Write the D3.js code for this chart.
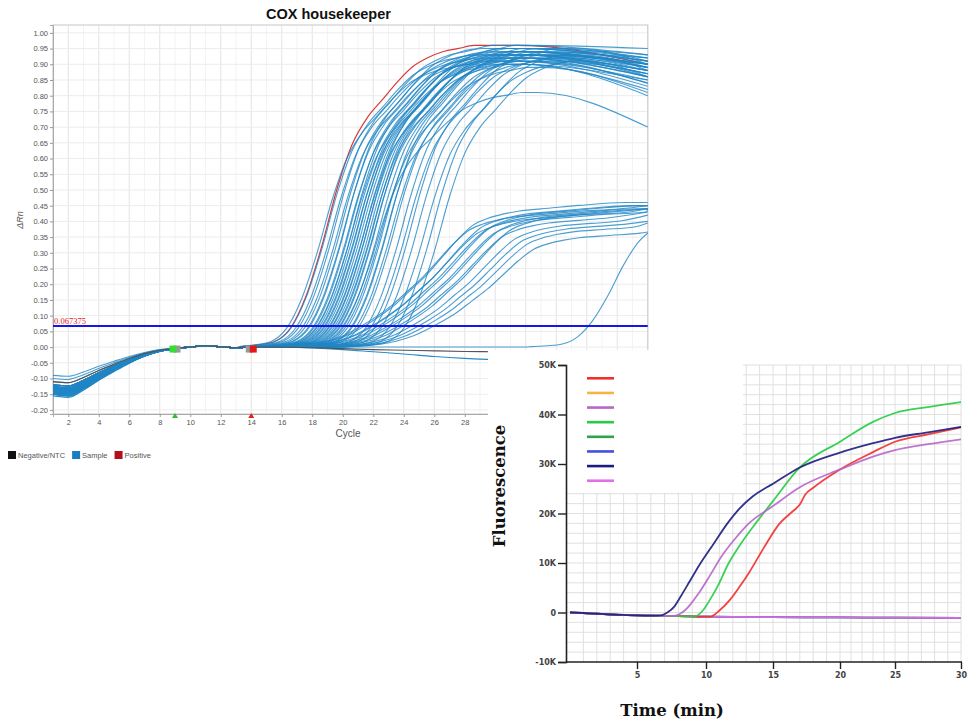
<!DOCTYPE html>
<html>
<head>
<meta charset="utf-8">
<script src="https://cdn.jsdelivr.net/npm/d3@7"></script>
<style>
  body { margin: 0; background: #fff; }
  svg { display: block; }
</style>
</head>
<body>
<script>
// ===== amplification plot: ΔRn vs cycle =====
const cycles = d3.range(1, 41);
const yTicks = [-0.20, -0.15, -0.10, -0.05, 0.00, 0.05, 0.10, 0.15, 0.20, 0.25, 0.30, 0.35, 0.40,
  0.45, 0.50, 0.55, 0.60, 0.65, 0.70, 0.75, 0.80, 0.85, 0.90, 0.95, 1.00];
const xTicks = [2, 4, 6, 8, 10, 12, 14, 16, 18, 20, 22, 24, 26, 28, 30, 32, 34, 36, 38, 40];
const threshold = 0.067375;

// baseline drift, cycles 1..15 (fraction of each well's starting offset) + shared wiggle
const baseShape = [1.0, 1.03, 0.88, 0.68, 0.5, 0.33, 0.19, 0.09, 0.02, 0, 0, 0, 0, 0, 0];
const baseWiggle = [0, 0, 0, 0, 0, 0, 0, 0, -0.002, 0, 0.004, 0.001, -0.002, 0, 0];

// rise shapes (cycles from the half-height point, fraction of plateau)
const mainShapeD = [-6, -5, -4, -3, -2, -1, 0, 1, 2, 3, 4, 5, 6, 7, 8, 9];
const mainShapeF = [0.003, 0.008, 0.02, 0.065, 0.17, 0.33, 0.52, 0.67, 0.76, 0.82, 0.88, 0.93, 0.96, 0.98, 0.99, 1.0];
const lowShapeD = [-9, -8, -7, -6, -5, -4, -3, -2, -1, 0, 1, 2, 3, 4, 5, 6, 8, 10, 13];
const lowShapeF = [0.005, 0.012, 0.025, 0.05, 0.09, 0.15, 0.22, 0.30, 0.40, 0.50, 0.62, 0.74, 0.84, 0.89, 0.92, 0.94, 0.96, 0.98, 1.0];

// samples, high plateau group
const mainMid = [19.3, 19.6, 19.9, 20.1, 20.3, 20.5, 20.7, 20.8, 21.0, 21.1, 21.2, 21.3, 21.4, 21.5,
  21.6, 21.7, 21.8, 21.9, 22.0, 22.1, 22.2, 22.3, 22.4, 22.5, 22.6, 22.7, 22.8, 23.0, 23.1, 23.3,
  23.5, 23.6, 23.8, 24.0, 24.5, 24.8, 25.1, 25.5, 26.0, 26.5, 27.0];
const mainPeak = [0.90, 0.93, 0.92, 0.95, 0.91, 0.94, 0.93, 0.96, 0.92, 0.94, 0.90, 0.95, 0.93, 0.91,
  0.94, 0.92, 0.95, 0.93, 0.90, 0.94, 0.92, 0.96, 0.93, 0.91, 0.94, 0.92, 0.95, 0.93, 0.89, 0.94,
  0.92, 0.95, 0.91, 0.93, 0.94, 0.92, 0.95, 0.93, 0.91, 0.94, 0.92];
const mainEnd = [0.85, 0.88, 0.86, 0.91, 0.83, 0.90, 0.87, 0.93, 0.84, 0.89, 0.82, 0.92, 0.88, 0.85,
  0.90, 0.86, 0.91, 0.89, 0.80, 0.92, 0.87, 0.95, 0.90, 0.84, 0.89, 0.88, 0.93, 0.90, 0.81, 0.91,
  0.86, 0.92, 0.87, 0.89, 0.90, 0.88, 0.91, 0.89, 0.86, 0.90, 0.88];
const mainStart = [-0.13, -0.145, -0.12, -0.15, -0.135, -0.14, -0.125, -0.155, -0.13, -0.11, -0.145,
  -0.14, -0.12, -0.15, -0.135, -0.13, -0.14, -0.125, -0.09, -0.15, -0.145, -0.13, -0.14, -0.12,
  -0.155, -0.135, -0.14, -0.13, -0.10, -0.145, -0.15, -0.125, -0.14, -0.135, -0.13, -0.145, -0.12,
  -0.15, -0.14, -0.13, -0.135];

// samples, low plateau group
const lowMid = [25.2, 25.5, 25.8, 26.0, 26.3, 26.6, 26.9, 27.2, 27.5, 27.9, 28.3, 28.7, 29.1, 29.5];
const lowPeak = [0.44, 0.46, 0.43, 0.45, 0.44, 0.45, 0.43, 0.44, 0.42, 0.44, 0.41, 0.40, 0.39, 0.37];
const lowEnd = [0.45, 0.46, 0.44, 0.45, 0.44, 0.45, 0.44, 0.44, 0.43, 0.44, 0.42, 0.40, 0.395, 0.366];
const lowStart = [-0.14, -0.13, -0.15, -0.12, -0.145, -0.135, -0.14, -0.13, -0.15, -0.125, -0.14,
  -0.135, -0.145, -0.13];

// odd ones: sagging sample, late sample, positive control
const sagSample = { mid: 22.8, peak: 0.81, end: 0.70, start: -0.12 };
const lateSample = { mid: 38.4, peak: 0.50, end: 0.363, start: -0.14 };
const positive = { mid: 19.6, peak: 0.96, end: 0.90, start: -0.12 };

// flat wells (after cycle 15)
const negCycles = [15, 18, 20, 22, 24, 26, 28, 30, 34, 40];
const negBlackV = [0, -0.002, -0.005, -0.008, -0.010, -0.012, -0.014, -0.015, -0.017, -0.020];
const negBlueV = [0, -0.003, -0.008, -0.015, -0.022, -0.030, -0.036, -0.040, -0.047, -0.055];

// ===== inset: fluorescence vs time =====
const flatT = [0, 1, 2, 3, 4, 5, 6, 7, 8, 9, 10, 12, 15, 20, 25, 30];
const flatV = [0, -100, -250, -400, -500, -600, -650, -700, -750, -800, -850, -900, -950, -1000, -1050, -1100];
const navyT = [0, 1, 2, 3, 4, 5, 6, 6.7, 7.2, 7.7, 8.2, 8.8, 9.5, 10.6, 11.6, 12.5, 13.5, 15, 17, 20, 23, 25, 27.5, 30];
const navyV = [0, -100, -250, -400, -500, -600, -650, -600, 0, 1200, 3400, 6200, 9500, 14000, 18000,
  21000, 23500, 26000, 29300, 32300, 34200, 35300, 36400, 37500];
const orchidT = [0, 2, 4, 6, 7.7, 8.5, 9.5, 10.3, 11.2, 12.2, 13.2, 15, 17, 20, 23, 25, 27.5, 30];
const orchidV = [0, -250, -500, -650, -700, 500, 4000, 7500, 11500, 15000, 18000, 21500, 25300, 28900,
  31500, 32800, 34000, 35000];
const greenT = [0, 2, 4, 6, 8, 9.2, 9.8, 10.3, 11.0, 11.6, 12.5, 13.7, 15, 17, 20, 23, 25, 27.5, 30];
const greenV = [0, -250, -500, -650, -750, -800, 500, 2600, 6000, 9500, 13500, 18000, 22500, 29300,
  34500, 38500, 40300, 41500, 42500];
const redT = [0, 2, 4, 6, 8, 10.3, 11.0, 11.8, 12.5, 13.2, 14.3, 15.5, 16.5, 17.0, 17.4, 18, 20, 23, 25, 27.5, 30];
const redV = [0, -250, -500, -650, -750, -850, 400, 2600, 5200, 8000, 13000, 18000, 20500, 21800,
  23800, 25200, 28900, 32400, 34500, 36000, 37400];
const legendColors = ["#f0302c", "#f5b447", "#b866c8", "#26cc46", "#30a24e", "#4050e0", "#1c1c80", "#e46ee8"];
const insetXTicks = [5, 10, 15, 20, 25, 30];
const insetYTicks = [-10000, 0, 10000, 20000, 30000, 40000, 50000];

const W = 969, H = 720;
const svg = d3.select("body").append("svg").attr("width", W).attr("height", H);

const x = d3.scaleLinear().domain([1, 40]).range([53, 647.75]);
const y = d3.scaleLinear().domain([-0.213, 1.025]).range([414, 25]);

const qpcr = svg.append("g");

// grid
qpcr.append("g").selectAll("line").data(cycles).join("line")
  .attr("x1", d => x(d)).attr("x2", d => x(d)).attr("y1", 25).attr("y2", 414)
  .attr("stroke", d => d % 2 === 0 ? "#e3e3e3" : "#f3f3f3").attr("stroke-width", 1);
qpcr.append("g").selectAll("line").data(yTicks).join("line")
  .attr("x1", 53).attr("x2", 647.75).attr("y1", d => y(d)).attr("y2", d => y(d))
  .attr("stroke", "#ececec").attr("stroke-width", 1);
qpcr.append("rect").attr("x", 53).attr("y", 25).attr("width", 594.75).attr("height", 389)
  .attr("fill", "none").attr("stroke", "#d0d0d0").attr("stroke-width", 1.2);

// axes
const yAxis = qpcr.append("g").attr("transform", "translate(53,0)")
  .call(d3.axisLeft(y).tickValues(yTicks).tickSize(3).tickFormat(d => (Math.round(d * 100) / 100).toFixed(2)));
const xAxis = qpcr.append("g").attr("transform", "translate(0,414)")
  .call(d3.axisBottom(x).tickValues(xTicks).tickSize(3).tickFormat(d => d));
[yAxis, xAxis].forEach(a => {
  a.select(".domain").attr("stroke", "#aaa");
  a.selectAll(".tick line").attr("stroke", "#999");
  a.selectAll("text").attr("fill", "#555").style("font", "7.5px 'Liberation Sans', Arial, sans-serif");
});
yAxis.selectAll("text").attr("x", -5);

qpcr.append("text").attr("x", 328.5).attr("y", 19).attr("text-anchor", "middle")
  .style("font", "bold 14.5px 'Liberation Sans', Arial, sans-serif").attr("fill", "#111")
  .text("COX housekeeper");
qpcr.append("text").attr("x", 348).attr("y", 437).attr("text-anchor", "middle")
  .style("font", "10px 'Liberation Sans', Arial, sans-serif").attr("fill", "#555").text("Cycle");
qpcr.append("text").attr("transform", "translate(23,220) rotate(-90)").attr("text-anchor", "middle")
  .style("font", "italic 9px 'Liberation Sans', Arial, sans-serif").attr("fill", "#555").text("ΔRn");

function buildCurve(s, shapeD, shapeF, hold) {
  const pts = [];
  cycles.forEach((c, i) => {
    if (c < s.mid + shapeD[0]) pts.push([c, s.start * (baseShape[i] || 0) + (baseWiggle[i] || 0)]);
  });
  shapeD.forEach((d, i) => { if (s.mid + d <= 40) pts.push([s.mid + d, s.peak * shapeF[i]]); });
  const last = pts[pts.length - 1][0];
  if (hold && last < hold && hold < 40) pts.push([hold, s.peak]);
  if (pts[pts.length - 1][0] < 40) pts.push([40, s.end]);
  return pts;
}
function flatCurve(start, vals) {
  const pts = cycles.filter(c => c < negCycles[0]).map((c, i) => [c, start * baseShape[i] + baseWiggle[i]]);
  return pts.concat(negCycles.map((c, i) => [c, vals[i]]));
}

const line = d3.line().x(d => x(d[0])).y(d => y(d[1])).curve(d3.curveMonotoneX);

const samples = [];
mainMid.forEach((m, i) => samples.push({ mid: m, peak: mainPeak[i], end: mainEnd[i], start: mainStart[i], group: "main" }));
lowMid.forEach((m, i) => samples.push({ mid: m, peak: lowPeak[i], end: lowEnd[i], start: lowStart[i], group: "low" }));
samples.push(Object.assign({ group: "main" }, sagSample));
samples.push(Object.assign({ group: "main" }, lateSample));
const samplePaths = samples.map(s => s.group === "main"
  ? buildCurve(s, mainShapeD, mainShapeF, Math.max(s.mid + 10, 31.5))
  : buildCurve(s, lowShapeD, lowShapeF, null));

const curves = qpcr.append("g").attr("fill", "none");
curves.append("path").attr("d", line(buildCurve(positive, mainShapeD, mainShapeF, 31.5)))
  .attr("stroke", "#d83a3a").attr("stroke-width", 1.2);
curves.append("path").attr("d", line(flatCurve(-0.15, negBlueV)))
  .attr("stroke", "#2a8ac6").attr("stroke-width", 1.1);
curves.selectAll(".s").data(samplePaths).join("path").attr("class", "s")
  .attr("d", line).attr("stroke", "#1f86c6").attr("stroke-opacity", 0.8).attr("stroke-width", 1.1);
curves.append("path").attr("d", line(flatCurve(-0.11, negBlackV)))
  .attr("stroke", "#555").attr("stroke-width", 1.1);

// threshold
qpcr.append("line").attr("x1", 53).attr("x2", 647.75).attr("y1", y(threshold)).attr("y2", y(threshold))
  .attr("stroke", "#1616e8").attr("stroke-width", 2);
qpcr.append("text").attr("x", 54).attr("y", y(threshold) - 2)
  .style("font", "8.5px 'Liberation Serif', 'Times New Roman', serif").attr("fill", "#e02020")
  .text(String(threshold));

// baseline start/end markers
const marks = [[9, 2, "#999"], [9, -2, "#33dd33"], [14, -2, "#999"], [14, 2, "#e01818"]];
qpcr.append("g").selectAll("rect").data(marks).join("rect")
  .attr("x", d => x(d[0]) + d[1] - 3.5).attr("y", y(0) - 1.5).attr("width", 7).attr("height", 7)
  .attr("fill", d => d[2]);
qpcr.append("g").selectAll("path").data([[9, "#33bb33"], [14, "#dd2222"]]).join("path")
  .attr("d", d => `M${x(d[0]) - 3},${418} L${x(d[0])},${413} L${x(d[0]) + 3},${418} Z`)
  .attr("fill", d => d[1]);

// legend
const legendItems = [["Negative/NTC", "#111"], ["Sample", "#1a7fc1"], ["Positive", "#b0101c"]];
const lg = qpcr.append("g").attr("transform", "translate(8,451)");
let lx = 0;
legendItems.forEach(([label, col]) => {
  lg.append("rect").attr("x", lx).attr("y", 0).attr("width", 8).attr("height", 8).attr("fill", col);
  const t = lg.append("text").attr("x", lx + 10).attr("y", 7)
    .style("font", "7.5px 'Liberation Sans', Arial, sans-serif").attr("fill", "#555").text(label);
  lx += 10 + t.node().getComputedTextLength() + 7;
});

// ===== inset =====
const inset = svg.append("g");
inset.append("rect").attr("x", 488).attr("y", 350).attr("width", W - 488).attr("height", H - 350).attr("fill", "#fff");

const ix = d3.scaleLinear().domain([0, 5, 10, 15, 20, 25, 30]).range([570, 637, 706, 773, 840, 895, 961]);
const iy = d3.scaleLinear().domain([-10000, 50000]).range([662, 365]);

inset.append("g").selectAll("line").data(d3.range(1, 31)).join("line")
  .attr("x1", d => ix(d)).attr("x2", d => ix(d)).attr("y1", iy(50000)).attr("y2", iy(-10000))
  .attr("stroke", "#dcdcdc").attr("stroke-width", 0.9);
inset.append("g").selectAll("line").data(d3.range(-8000, 50001, 2000)).join("line")
  .attr("x1", 566).attr("x2", ix(30)).attr("y1", d => iy(d)).attr("y2", d => iy(d))
  .attr("stroke", "#dcdcdc").attr("stroke-width", 0.9);
inset.append("rect").attr("x", 567).attr("y", 363).attr("width", 176).attr("height", 130).attr("fill", "#fff");

const iline = d3.line().x(d => ix(d[0])).y(d => iy(d[1])).curve(d3.curveMonotoneX);
const zip = (t, v) => t.map((d, i) => [d, v[i]]);
const insetSeries = [
  [zip(flatT, flatV), legendColors[1]],
  [zip(flatT, flatV), legendColors[4]],
  [zip(flatT, flatV), legendColors[5]],
  [zip(flatT, flatV), legendColors[7]],
  [zip(redT, redV), legendColors[0]],
  [zip(greenT, greenV), legendColors[3]],
  [zip(orchidT, orchidV), legendColors[2]],
  [zip(navyT, navyV), legendColors[6]]
];
inset.append("g").attr("fill", "none").selectAll("path").data(insetSeries).join("path")
  .attr("d", d => iline(d[0])).attr("stroke", d => d[1]).attr("stroke-width", 1.8)
  .attr("stroke-opacity", 0.9);

// legend swatches
inset.append("g").selectAll("line").data(legendColors).join("line")
  .attr("x1", 587).attr("x2", 614)
  .attr("y1", (d, i) => 378.3 + i * 14.63).attr("y2", (d, i) => 378.3 + i * 14.63)
  .attr("stroke", d => d).attr("stroke-width", 2.6);

// axes
const iyAxis = inset.append("g").attr("transform", "translate(566,0)")
  .call(d3.axisLeft(iy).tickValues(insetYTicks).tickSize(8).tickFormat(d => d === 0 ? "0" : d / 1000 + "K"));
const ixAxis = inset.append("g").attr("transform", "translate(0,662)")
  .call(d3.axisBottom(ix).tickValues(insetXTicks).tickSize(7).tickFormat(d => d));
ixAxis.select(".domain").attr("d", "M566,0H962");
[iyAxis, ixAxis].forEach(a => {
  a.select(".domain").attr("stroke", "#222").attr("stroke-width", 1.6);
  a.selectAll(".tick line").attr("stroke", "#222").attr("stroke-width", 1.4);
  a.selectAll("text").attr("fill", "#444").style("font", "bold 8px 'DejaVu Sans', sans-serif");
});
iyAxis.selectAll("text").attr("x", -10);
ixAxis.selectAll("text").attr("y", 10);

inset.append("text").attr("transform", "translate(505,486) rotate(-90)").attr("text-anchor", "middle")
  .style("font", "bold 16.5px 'DejaVu Serif', serif").attr("fill", "#111").text("Fluorescence");
inset.append("text").attr("x", 672).attr("y", 716).attr("text-anchor", "middle")
  .style("font", "bold 16.5px 'DejaVu Serif', serif").attr("fill", "#111").text("Time (min)");
</script>
</body>
</html>
